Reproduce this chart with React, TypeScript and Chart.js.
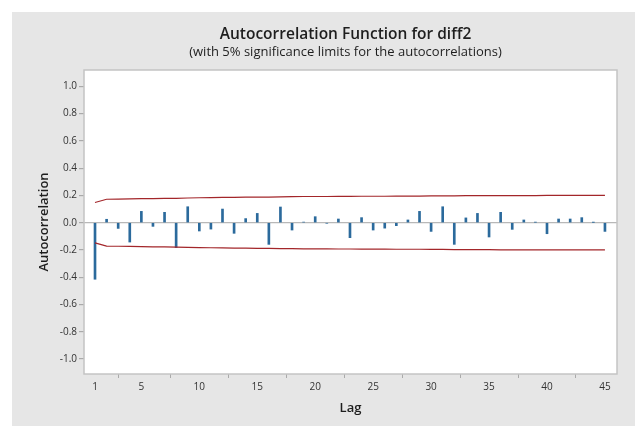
import React, { useEffect, useRef } from "react";
import { Chart, registerables } from "chart.js";

Chart.register(...registerables);

const lags: number[] = Array.from({ length: 45 }, (_, i) => i + 1);
const acfValues: number[] = [
  -0.415, 0.025, -0.042, -0.142, 0.083, -0.027, 0.076, -0.183, 0.117, -0.061,
  -0.047, 0.1, -0.078, 0.03, 0.068, -0.159, 0.115, -0.054, 0.004, 0.044,
  -0.004, 0.027, -0.11, 0.037, -0.054, -0.04, -0.022, 0.02, 0.083, -0.064,
  0.117, -0.159, 0.035, 0.068, -0.105, 0.076, -0.049, 0.02, 0.003, -0.081,
  0.027, 0.027, 0.037, 0.002, -0.064,
];
const limitValues: number[] = [
  0.148, 0.172, 0.173, 0.174, 0.176, 0.177, 0.178, 0.179, 0.181, 0.183,
  0.184, 0.185, 0.186, 0.187, 0.188, 0.188, 0.19, 0.191, 0.192, 0.192,
  0.192, 0.193, 0.193, 0.194, 0.194, 0.194, 0.195, 0.195, 0.195, 0.196,
  0.196, 0.197, 0.198, 0.198, 0.198, 0.199, 0.199, 0.199, 0.199, 0.2,
  0.2, 0.2, 0.2, 0.2, 0.2,
];
const xTickValues: number[] = [1, 5, 10, 15, 20, 25, 30, 35, 40, 45];
const titleText = "Autocorrelation Function for diff2";
const subtitleText = "(with 5% significance limits for the autocorrelations)";
const yTitle = "Autocorrelation";
const xTitle = "Lag";

const FONT = "'Open Sans', 'Noto Sans', sans-serif";

export default function App() {
  const ref = useRef<HTMLCanvasElement | null>(null);

  useEffect(() => {
    if (!ref.current) return;
    const bgPlugin = {
      id: "bgPlugin",
      beforeDraw(chart: any) {
        const { ctx, chartArea } = chart;
        ctx.save();
        ctx.fillStyle = "#ffffff";
        ctx.fillRect(0, 0, chart.width, chart.height);
        ctx.fillStyle = "#e6e6e6";
        ctx.fillRect(12, 12, chart.width - 12, chart.height - 12);
        ctx.fillStyle = "#ffffff";
        ctx.fillRect(chartArea.left, chartArea.top, chartArea.right - chartArea.left, chartArea.bottom - chartArea.top);
        ctx.restore();
      },
      afterDraw(chart: any) {
        const { ctx, chartArea } = chart;
        ctx.save();
        ctx.strokeStyle = "#c4c4c4";
        ctx.lineWidth = 1.5;
        ctx.strokeRect(chartArea.left, chartArea.top, chartArea.right - chartArea.left, chartArea.bottom - chartArea.top);
        const cx = (chartArea.left + chartArea.right) / 2 - 5;
        ctx.fillStyle = "#1e1e1e";
        ctx.textAlign = "center";
        ctx.textBaseline = "middle";
        ctx.font = `600 15.5px ${FONT}`;
        ctx.fillText(titleText, cx, 35);
        ctx.font = `400 13px ${FONT}`;
        ctx.fillText(subtitleText, cx, 52);
        ctx.restore();
      },
    };

    const chart = new Chart(ref.current, {
      type: "bar",
      data: {
        datasets: [
          {
            type: "bar",
            data: lags.map((l, i) => ({ x: l, y: acfValues[i] })),
            backgroundColor: "#2b6a9c",
            borderWidth: 0,
            barThickness: 2,
            order: 2,
          } as any,
          {
            type: "line",
            data: lags.map((l, i) => ({ x: l, y: limitValues[i] })),
            borderColor: "#a3262a",
            borderWidth: 1.2,
            pointRadius: 0,
            tension: 0,
            order: 1,
          } as any,
          {
            type: "line",
            data: lags.map((l, i) => ({ x: l, y: -limitValues[i] })),
            borderColor: "#a3262a",
            borderWidth: 1.2,
            pointRadius: 0,
            tension: 0,
            order: 1,
          } as any,
        ],
      },
      options: {
        animation: false,
        responsive: false,
        layout: { padding: { left: 12, right: 18, top: 70, bottom: 0 } },
        plugins: {
          legend: { display: false },
          tooltip: { enabled: false },
          title: { display: false },
        },
        scales: {
          x: {
            type: "linear",
            min: 0.05,
            max: 46.04,
            offset: false,
            afterFit(scale: any) {
              scale.height = 52;
            },
            afterBuildTicks(scale: any) {
              scale.ticks = xTickValues.map((v) => ({ value: v }));
            },
            border: { display: false },
            grid: {
              drawOnChartArea: false,
              drawTicks: true,
              tickLength: 4,
              tickColor: (c: any) =>
                c.tick && xTickValues.includes(Number(c.tick.value)) ? "#aaaaaa" : "rgba(0,0,0,0)",
            },
            ticks: {
              autoSkip: false,
              maxRotation: 0,
              padding: 3,
              color: "#333333",
              font: { family: FONT, size: 10 },
              callback: (v: any) => String(v),
            },
            title: {
              display: true,
              text: xTitle,
              color: "#1e1e1e",
              font: { family: FONT, size: 13, weight: "600" },
              padding: { top: 0, bottom: 10 },
            },
          },
          y: {
            min: -1.11,
            max: 1.12,
            afterFit(scale: any) {
              scale.width = 72;
            },
            border: { display: false },
            grid: {
              drawOnChartArea: true,
              drawTicks: true,
              tickLength: 5,
              color: (c: any) => (Math.abs(c.tick.value) < 1e-9 ? "#b8b8b8" : "rgba(0,0,0,0)"),
              tickColor: "#aaaaaa",
              lineWidth: 1.2,
            },
            ticks: {
              stepSize: 0.2,
              includeBounds: false,
              padding: 2,
              color: "#333333",
              font: { family: FONT, size: 10 },
              callback: (v: any) => {
                const n = Math.abs(Number(v)) < 1e-9 ? 0 : Number(v);
                return n.toFixed(1);
              },
            },
            title: {
              display: true,
              text: yTitle,
              color: "#1e1e1e",
              font: { family: FONT, size: 13, weight: "600" },
              padding: { top: 24, bottom: 0 },
            },
          },
        },
      },
      plugins: [bgPlugin],
    } as any);
    return () => chart.destroy();
  }, []);

  return (
    <div style={{ position: "absolute", left: 0, top: 0, width: 635, height: 426 }}>
      <canvas ref={ref} width={635} height={426} style={{ display: "block" }} />
    </div>
  );
}
